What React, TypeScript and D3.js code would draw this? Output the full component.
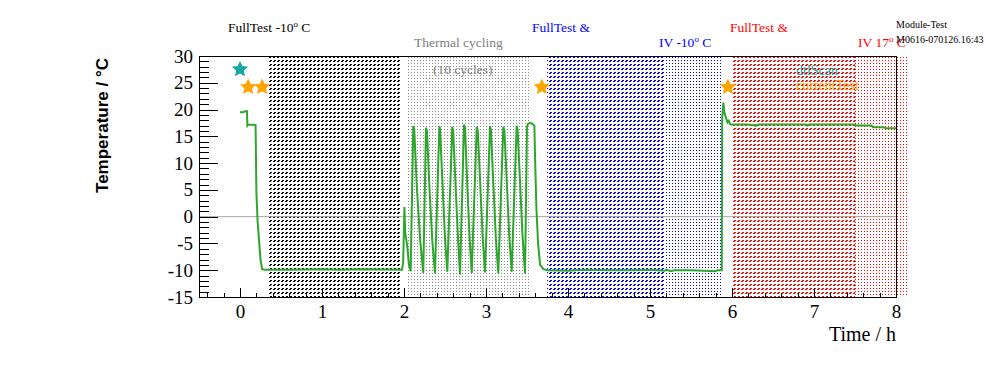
import React, { useEffect, useRef } from "react";
import * as d3 from "d3";

// temperature log, [time in h, temperature in °C]
const temperature: [number, number][] = [
  [0, 19.5], [0.04, 19.5], [0.06, 19.7], [0.085, 19.7], [0.09, 17.0], [0.1, 17.2],
  [0.19, 17.1], [0.2, 4.5], [0.215, -1.0], [0.235, -5.0], [0.25, -8.0], [0.27, -9.8],
  [0.3, -9.9], [0.6, -9.9], [1.0, -9.8], [1.2, -9.9], [1.5, -9.8], [1.975, -9.9],
  [1.99, -8.5], [2.005, 1.8], [2.015, -3.0], [2.04, -5.5], [2.06, -9.0], [2.081, -10.2],
  [2.113, 16.9], [2.125, 16.4], [2.155, 6.0], [2.195, -4.0], [2.235, -10.5],
  [2.268, 16.6], [2.28, 16.0], [2.31, 5.5], [2.345, -4.5], [2.378, -10.6],
  [2.431, 16.9], [2.44, 16.2], [2.47, 6.0], [2.5, -4.0], [2.528, -10.3],
  [2.589, 16.8], [2.6, 16.0], [2.63, 5.5], [2.66, -4.5], [2.683, -10.8],
  [2.732, 17.2], [2.745, 16.5], [2.77, 6.5], [2.8, -4.0], [2.826, -10.5],
  [2.887, 16.8], [2.9, 16.0], [2.93, 6.0], [2.96, -4.0], [2.988, -10.4],
  [3.049, 16.9], [3.06, 16.2], [3.09, 6.0], [3.12, -4.0], [3.15, -10.6],
  [3.211, 16.8], [3.225, 16.0], [3.255, 6.0], [3.285, -4.0], [3.313, -10.3],
  [3.374, 17.0], [3.385, 16.3], [3.415, 6.5], [3.445, -3.5], [3.476, -10.6],
  [3.5, 16.8], [3.51, 17.3], [3.53, 17.5], [3.56, 17.4], [3.59, 17.0], [3.6, 10.0],
  [3.615, 1.5], [3.635, -5.0], [3.66, -9.0], [3.7, -9.8], [3.75, -10.0], [4.0, -10.1],
  [4.2, -9.9], [4.5, -10.0], [4.8, -10.0], [5.0, -9.9], [5.18, -10.1], [5.2, -9.9],
  [5.25, -10.2], [5.3, -10.0], [5.5, -10.0], [5.8, -10.2], [5.82, -10.0], [5.875, -10.0],
  [5.88, 18.2], [5.895, 21.3], [5.905, 19.6], [5.93, 18.3], [5.945, 17.6], [5.96, 17.9],
  [5.98, 17.2], [6.2, 17.2], [6.3, 17.0], [6.32, 17.2], [6.9, 17.2], [6.92, 17.0],
  [6.94, 17.2], [7.2, 17.2], [7.5, 17.2], [7.52, 17.0], [7.7, 17.0], [7.72, 16.7],
  [7.85, 16.7], [7.87, 16.5], [8.0, 16.5],
];

// test phases [start h, end h, pattern]
const phases: [number, number, string][] = [
  [0.34, 1.96, "hatchBlack"],
  [2.02, 3.52, "dotsGray"],
  [3.74, 5.18, "hatchBlue"],
  [5.18, 5.87, "dotsBlue"],
  [6.01, 7.5, "hatchRed"],
  [7.5, 8.15, "dotsRed"],
];

const dtlScan: [number, number][] = [[0, 27.5]];
const currentTest: [number, number][] = [[0.1, 24.2], [0.27, 24.2], [3.68, 24.2], [5.95, 24.2]];

const xTicks = [0, 1, 2, 3, 4, 5, 6, 7, 8];
const yTicks = [-15, -10, -5, 0, 5, 10, 15, 20, 25, 30];

const serif = "'Liberation Serif', 'Times New Roman', serif";
const sans = "'Liberation Sans', Arial, sans-serif";

// ROOT-like full star (fatter than d3.symbolStar)
const fatStar = {
  draw(context: any, size: number) {
    const r = Math.sqrt(size);
    const ri = r * 0.48;
    for (let i = 0; i < 10; i++) {
      const rr = i % 2 === 0 ? r : ri;
      const a = (i * Math.PI) / 5 - Math.PI / 2;
      const px = rr * Math.cos(a);
      const py = rr * Math.sin(a);
      if (i === 0) context.moveTo(px, py);
      else context.lineTo(px, py);
    }
    context.closePath();
  },
};

const App: React.FC = () => {
  const svgRef = useRef<SVGSVGElement | null>(null);

  useEffect(() => {
    if (!svgRef.current) return;
    const svg = d3.select(svgRef.current);
    svg.selectAll("*").remove();

    const left = 199, right = 896, top = 56, bottom = 297;
    const x = d3.scaleLinear().domain([-0.5, 8]).range([left, right]);
    const y = d3.scaleLinear().domain([-15, 30]).range([bottom, top]);

    // fill patterns
    const defs = svg.append("defs");
    const hatch = (id: string, color: string) => {
      const p = defs.append("pattern").attr("id", id)
        .attr("patternUnits", "userSpaceOnUse").attr("width", 4).attr("height", 4);
      p.append("rect").attr("x", 2).attr("y", 0).attr("width", 2).attr("height", 1).attr("fill", color);
      p.append("rect").attr("x", 1).attr("y", 1).attr("width", 2).attr("height", 1).attr("fill", color);
    };
    const dots = (id: string, color: string, size: number) => {
      const p = defs.append("pattern").attr("id", id)
        .attr("patternUnits", "userSpaceOnUse").attr("width", size).attr("height", size);
      p.append("rect").attr("x", 0).attr("y", 0).attr("width", 1).attr("height", 1).attr("fill", color);
    };
    hatch("hatchBlack", "#000");
    hatch("hatchBlue", "#0000ff");
    hatch("hatchRed", "#ff0000");
    dots("dotsGray", "#8c8c8c", 3);
    dots("dotsBlue", "#0000ff", 3);
    dots("dotsRed", "#ff0000", 3);

    svg.append("g")
      .attr("shape-rendering", "crispEdges")
      .selectAll("rect")
      .data(phases)
      .enter()
      .append("rect")
      .attr("x", (d) => Math.round(x(d[0])))
      .attr("width", (d) => Math.round(x(d[1])) - Math.round(x(d[0])))
      .attr("y", top)
      .attr("height", bottom - top)
      .attr("fill", (d) => `url(#${d[2]})`);

    // zero line
    svg.append("line")
      .attr("x1", left).attr("x2", right)
      .attr("y1", y(0)).attr("y2", y(0))
      .attr("stroke", "#aaa49b").attr("stroke-width", 1);

    const line = d3.line<[number, number]>()
      .x((d) => x(d[0]))
      .y((d) => y(d[1]));
    svg.append("path")
      .datum(temperature)
      .attr("fill", "none")
      .attr("stroke", "#2ea52c")
      .attr("stroke-width", 2)
      .attr("stroke-linejoin", "miter")
      .attr("d", line);

    const star = d3.symbol().type(fatStar as any).size(72);
    const drawStars = (pts: [number, number][], color: string) => {
      svg.append("g").selectAll("path")
        .data(pts)
        .enter()
        .append("path")
        .attr("d", star)
        .attr("transform", (d) => `translate(${x(d[0])},${y(d[1])})`)
        .attr("fill", color);
    };
    drawStars(dtlScan, "#17a5a8");
    drawStars(currentTest, "#ffa500");

    // legend
    svg.append("text").attr("x", 796).attr("y", 75).attr("font-family", serif)
      .attr("font-size", 14).attr("fill", "#17a5a8").text("dtlScan");
    svg.append("text").attr("x", 796).attr("y", 90).attr("font-family", serif)
      .attr("font-size", 14).attr("fill", "#ffa500").text("currentTest");

    // frame
    svg.append("rect")
      .attr("x", left).attr("y", top)
      .attr("width", right - left).attr("height", bottom - top)
      .attr("fill", "none").attr("stroke", "#000").attr("stroke-width", 1)
      .attr("shape-rendering", "crispEdges");

    // axes
    const yAxis = svg.append("g").attr("transform", `translate(${left},0)`)
      .call(d3.axisLeft(y).tickValues(yTicks).tickSize(-19).tickPadding(6).tickFormat((d) => `${d}`));
    svg.append("g").attr("transform", `translate(${left},0)`)
      .call(d3.axisLeft(y).tickValues(d3.range(-15, 31, 1)).tickSize(-9.5).tickFormat(() => ""));
    const xAxis = svg.append("g").attr("transform", `translate(0,${bottom})`)
      .call(d3.axisBottom(x).tickValues(xTicks).tickSize(-9).tickPadding(8).tickFormat((d) => `${d}`));
    svg.append("g").attr("transform", `translate(0,${bottom})`)
      .call(d3.axisBottom(x).tickValues(d3.range(-0.4, 8.01, 0.2)).tickSize(-4.5).tickFormat(() => ""));
    svg.selectAll(".domain").remove();
    svg.selectAll(".tick line").attr("stroke", "#000").attr("shape-rendering", "crispEdges");
    yAxis.attr("font-family", serif);
    xAxis.attr("font-family", serif);
    yAxis.selectAll("text").attr("font-family", serif).attr("font-size", 19).attr("fill", "#000");
    xAxis.selectAll("text").attr("font-family", serif).attr("font-size", 19).attr("fill", "#000");

    svg.append("text")
      .attr("x", right).attr("y", 341)
      .attr("text-anchor", "end")
      .attr("font-family", serif).attr("font-size", 20)
      .text("Time / h");
    svg.append("text")
      .attr("transform", "translate(108,58) rotate(-90)")
      .attr("text-anchor", "end")
      .attr("font-family", sans).attr("font-size", 17).attr("font-weight", "bold")
      .text("Temperature / °C");

    // phase annotations
    const label = (tx: number, ty: number, color: string, before: string, sup?: string, after?: string) => {
      const t = svg.append("text").attr("x", tx).attr("y", ty)
        .attr("font-family", serif).attr("font-size", 13.5).attr("fill", color);
      t.append("tspan").text(before);
      if (sup) {
        t.append("tspan").attr("font-size", 9).attr("dy", -5).text(sup);
        t.append("tspan").attr("dy", 5).text(after ?? "");
      }
    };
    label(228, 32, "#000", "FullTest -10", "o", " C");
    label(414, 47, "#808080", "Thermal cycling");
    label(433, 74, "#808080", "(10 cycles)");
    label(532, 32, "#0000ff", "FullTest &");
    label(659, 47, "#0000ff", "IV -10", "o", " C");
    label(730, 32, "#ff0000", "FullTest &");
    label(858, 47, "#ff0000", "IV 17", "o", " C");

    svg.append("text").attr("x", 896).attr("y", 28)
      .attr("font-family", serif).attr("font-size", 10).text("Module-Test");
    svg.append("text").attr("x", 896).attr("y", 43)
      .attr("font-family", serif).attr("font-size", 10).text("M0616-070126.16:43");
  }, []);

  return (
    <svg
      ref={svgRef}
      width={996}
      height={372}
      style={{ position: "absolute", left: 0, top: 0, background: "#fff" }}
    ></svg>
  );
};

export default App;
